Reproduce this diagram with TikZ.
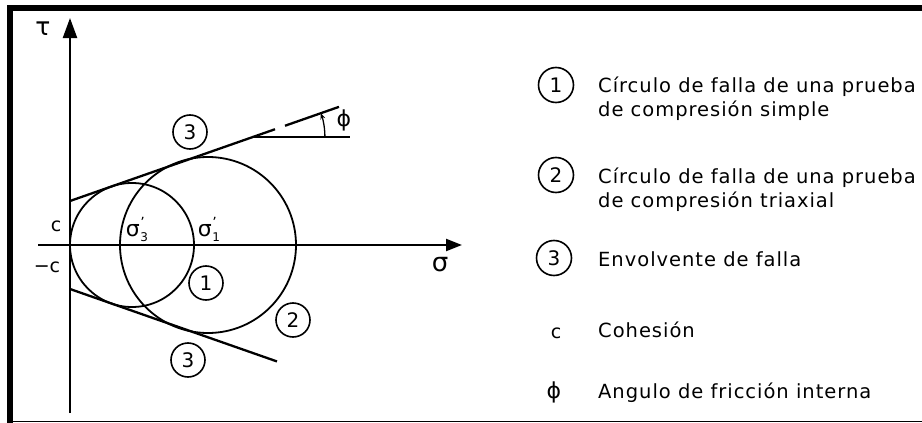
\documentclass[tikz,border=0pt]{standalone}
\usepackage{fontspec}
\setmainfont{DejaVu Sans}
\newfontfamily\legfont[LetterSpace=5]{DejaVu Sans}
\usetikzlibrary{arrows.meta}
\newcommand{\sigp}[1]{σ\kern0.5pt\rlap{\raisebox{9pt}{\fontsize{14}{14}\selectfont'}}\raisebox{-5pt}{\fontsize{12}{12}\selectfont #1}}
\begin{document}
\begin{tikzpicture}[x=1pt,y=-1pt,
  num/.style={circle,draw,line width=1.6pt,minimum size=34pt,inner sep=0pt,font=\fontsize{20}{20}\selectfont},
  leg/.style={anchor=base west,inner sep=0pt,font=\legfont\fontsize{19.5}{19.5}\selectfont},
  lbl/.style={inner sep=0pt,font=\fontsize{19}{19}\selectfont},
  grk/.style={inner sep=0pt,font=\fontsize{22}{22}\selectfont},
  ax/.style={line width=2.3pt},
  crc/.style={line width=1.8pt},
  env/.style={line width=2.3pt}]
\useasboundingbox (0,0) rectangle (922,423);
% frame
\fill (7,5) rectangle (922,11);
\fill (7,5) rectangle (13,423);
\draw[line width=1pt] (13,421) -- (922,421);
% axes
\coordinate (O) at (70,245);
\coordinate (tauB) at (70,413);
\coordinate (tauT) at (70,18);
\coordinate (sigL) at (38,245);
\coordinate (sigR) at (462,245);
\draw[ax,-{Triangle[length=20pt,width=14pt]}] (tauB) -- (tauT);
\draw[ax,-{Triangle[length=16pt,width=12pt]}] (sigL) -- (sigR);
% Mohr circles
\coordinate (C1) at (132,245);
\coordinate (C2) at (208,245);
\draw[crc] (C1) circle[radius=62pt];
\draw[crc] (C2) circle[radius=88pt];
% failure envelope
\coordinate (A) at (70,201);
\coordinate (B) at (275,129.25);
\coordinate (C) at (285,125.75);
\coordinate (D) at (339,106.85);
\coordinate (E) at (70,289);
\coordinate (F) at (277,361.45);
\draw[env] (A) -- (B);
\draw[env] (C) -- (D);
\draw[env] (E) -- (F);
% friction angle
\coordinate (P) at (252.9,137);
\coordinate (Q) at (350,137);
\draw[line width=1.5pt] (P) -- (Q);
\draw[line width=1.3pt,-{Stealth[length=6pt,width=5pt]}] ([shift={(0:72pt)}]P) arc[start angle=0,end angle=19.29,radius=72pt];
\node[grk] (lphi) at (344,120) {ϕ};
% axis labels
\node[grk,font=\fontsize{25}{25}\selectfont] (ltau) at (43,29) {τ};
\node[grk,font=\fontsize{26}{26}\selectfont] (lsig) at (440,265) {σ};
\node[lbl] (lc) at (56,226) {c};
\node[lbl] (lmc) at (47,267) {−c};
\node[grk] (ls3) at (137,229) {\sigp{3}};
\node[grk] (ls1) at (209,229) {\sigp{1}};
% circled numbers in the diagram
\node[num] (n3a) at (190,132) {3};
\node[num] (n1) at (206,283) {1};
\node[num] (n2) at (293,320) {2};
\node[num] (n3b) at (188,360) {3};
% legend
\node[num,minimum size=35pt] (k1) at (556,85) {1};
\node[num,minimum size=35pt] (k2) at (556,175) {2};
\node[num,minimum size=35pt] (k3) at (554,258) {3};
\node[lbl] (kc) at (556,333) {c};
\node[grk] (kphi) at (554,392) {ϕ};
\node[leg] (t1a) at (598,92) {Círculo de falla de una prueba};
\node[leg] (t1b) at (598,116) {de compresión simple};
\node[leg] (t2a) at (598,183) {Círculo de falla de una prueba};
\node[leg] (t2b) at (598,207) {de compresión triaxial};
\node[leg] (t3) at (598,266) {Envolvente de falla};
\node[leg] (tc) at (598,337) {Cohesión};
\node[leg] (tphi) at (598,398) {Angulo de fricción interna};
\end{tikzpicture}
\end{document}
